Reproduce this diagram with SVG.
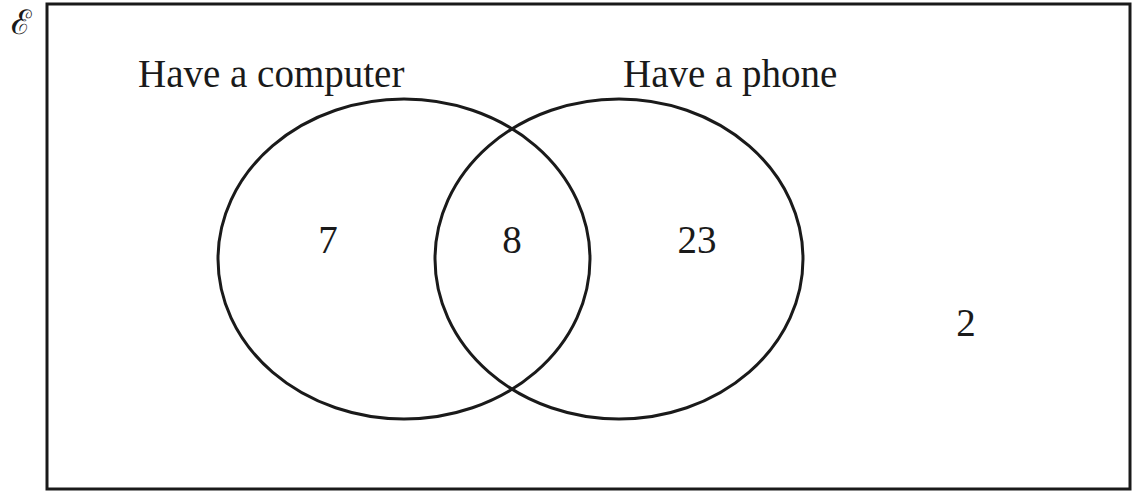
<svg xmlns="http://www.w3.org/2000/svg" width="1135" height="491" viewBox="0 0 1135 491">
<style>
.t{font-family:"Liberation Serif","Times New Roman",serif;font-size:39px;fill:#1a1a1a}
.c{fill:none;stroke:#1a1a1a;stroke-width:3}
</style>
<rect x="0" y="0" width="1135" height="491" fill="#ffffff"/>
<g id="universe">
<rect x="47" y="4" width="1083" height="485" fill="none" stroke="#1a1a1a" stroke-width="3"/>
<text x="21" y="34" text-anchor="middle" style="font-family:'DejaVu Serif','Liberation Serif',serif;font-size:34px;fill:#1a1a1a">ℰ</text>
</g>
<g id="computer">
<ellipse class="c" cx="404" cy="259" rx="186" ry="160"/>
<text class="t" x="138" y="87">Have a computer</text>
<text class="t" x="328" y="253" text-anchor="middle">7</text>
</g>
<g id="phone">
<ellipse class="c" cx="619" cy="259" rx="184" ry="160"/>
<text class="t" x="623" y="87">Have a phone</text>
<text class="t" x="697" y="253" text-anchor="middle">23</text>
</g>
<g id="both">
<text class="t" x="512" y="253" text-anchor="middle">8</text>
</g>
<g id="neither">
<text class="t" x="966" y="336" text-anchor="middle">2</text>
</g>
<g id="connectors"></g>
</svg>
